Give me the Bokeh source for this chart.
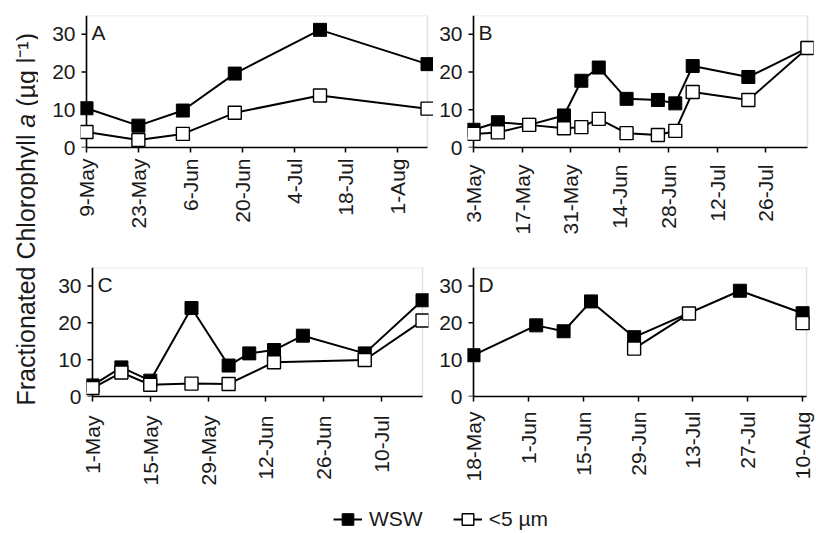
import numpy as np
import pandas as pd
from math import pi
from bokeh.plotting import figure
from bokeh.models import (Range1d, FixedTicker, BoxAnnotation, Label, Legend,
                          LegendItem, ColumnDataSource, Span)
from bokeh.layouts import row, column
from bokeh.embed import file_html
from bokeh.resources import INLINE

# ---------------- data ----------------
A_wsw_dates = ["9-May", "23-May", "4-Jun", "18-Jun", "11-Jul", "9-Aug"]
A_wsw = [10.4, 5.8, 9.8, 19.6, 31.2, 22.1]
A_small_dates = ["9-May", "23-May", "4-Jun", "18-Jun", "11-Jul", "9-Aug"]
A_small = [4.1, 2.0, 3.6, 9.2, 13.8, 10.3]
A_ticks = ["9-May", "23-May", "6-Jun", "20-Jun", "4-Jul", "18-Jul", "1-Aug"]
A_axis = ("9-May", "9-Aug")

B_wsw_dates = ["3-May", "10-May", "19-May", "29-May", "3-Jun", "8-Jun", "16-Jun",
               "25-Jun", "30-Jun", "5-Jul", "21-Jul", "7-Aug"]
B_wsw = [4.7, 6.7, 6.0, 8.5, 17.7, 21.2, 12.9, 12.6, 11.7, 21.6, 18.7, 26.4]
B_small_dates = B_wsw_dates
B_small = [3.6, 4.0, 6.0, 5.1, 5.4, 7.6, 3.8, 3.3, 4.4, 14.7, 12.6, 26.4]
B_ticks = ["3-May", "17-May", "31-May", "14-Jun", "28-Jun", "12-Jul", "26-Jul"]
B_axis = ("3-May", "7-Aug")

C_wsw_dates = ["1-May", "8-May", "15-May", "25-May", "3-Jun", "8-Jun", "14-Jun",
               "21-Jun", "6-Jul", "20-Jul"]
C_wsw = [3.0, 7.9, 4.3, 24.0, 8.4, 11.7, 12.6, 16.5, 11.7, 26.1]
C_small_dates = ["1-May", "8-May", "15-May", "25-May", "3-Jun", "14-Jun", "6-Jul", "20-Jul"]
C_small = [2.3, 6.5, 3.2, 3.5, 3.4, 9.3, 9.9, 20.6]
C_ticks = ["1-May", "15-May", "29-May", "12-Jun", "26-Jun", "10-Jul"]
C_axis = ("1-May", "20-Jul")

D_wsw_dates = ["18-May", "3-Jun", "10-Jun", "17-Jun", "28-Jun", "25-Jul", "10-Aug"]
D_wsw = [11.2, 19.3, 17.7, 25.8, 16.1, 28.7, 22.6]
D_small_dates = ["28-Jun", "12-Jul", "25-Jul", "10-Aug"]
D_small = [13.0, 22.5, np.nan, 19.9]
D_ticks = ["18-May", "1-Jun", "15-Jun", "29-Jun", "13-Jul", "27-Jul", "10-Aug"]
D_axis = ("18-May", "11-Aug")

y_ticks = [0, 10, 20, 30]
y_max = 35
series_names = ["WSW", "<5 µm"]
panel_letters = ["A", "B", "C", "D"]
y_title_parts = ["Fractionated Chlorophyll", "a", "(µg l⁻¹)"]

FONT = "Liberation Sans"
INK = "#1a1a1a"


def doy(s):
    return int(pd.to_datetime(s + "-2001", format="%d-%b-%Y").dayofyear)


# layout / style per panel (positions in px)
layouts = {
    "A": dict(w=395, h=248, bl=42, br=0, bt=14, bb=96, box_w=341, pad=6, stand=6),
    "B": dict(w=383, h=248, bl=34, br=3, bt=15, bb=101, box_w=334, pad=6, stand=12),
    "C": dict(w=393, h=240, bl=48, br=3, bt=19, bb=92, box_w=330, pad=6, stand=14),
    "D": dict(w=385, h=240, bl=36, br=4, bt=17, bb=92, box_w=333, pad=6, stand=10),
}

panels_data = {
    "A": (A_wsw_dates, A_wsw, A_small_dates, A_small, A_ticks, A_axis),
    "B": (B_wsw_dates, B_wsw, B_small_dates, B_small, B_ticks, B_axis),
    "C": (C_wsw_dates, C_wsw, C_small_dates, C_small, C_ticks, C_axis),
    "D": (D_wsw_dates, D_wsw, D_small_dates, D_small, D_ticks, D_axis),
}


def make_panel(letter):
    wd, wv, sd, sv, ticks, axis = panels_data[letter]
    L = layouts[letter]
    x0, x1 = doy(axis[0]), doy(axis[1])
    span = x1 - x0
    dpp = span / L["box_w"]          # days per pixel
    padd = L["pad"] * dpp
    p = figure(width=L["w"], height=L["h"],
               x_range=Range1d(x0 - padd, x1 + padd), y_range=Range1d(0, y_max),
               min_border_left=L["bl"], min_border_right=L["br"],
               min_border_top=L["bt"], min_border_bottom=L["bb"],
               output_backend="svg", toolbar_location=None)
    p.grid.visible = False
    p.outline_line_color = None
    p.background_fill_color = "white"
    p.border_fill_color = "white"

    # plot-area box (grey), then black left axis line on the box edge
    p.add_layout(BoxAnnotation(left=x0, right=x1, bottom=0, top=y_max, fill_alpha=0,
                               line_color="#a0a0a0", line_width=1.5, level="underlay"))
    p.add_layout(Span(location=x0, dimension="height", line_color="black",
                      line_width=1.6, level="underlay"))
    # y ticks pointing outward from the box edge
    p.segment(x0=[x0 - 5 * dpp] * len(y_ticks), y0=y_ticks,
              x1=[x0] * len(y_ticks), y1=y_ticks,
              line_color="black", line_width=1.5)

    tick_vals = [doy(t) for t in ticks]
    xa = p.xaxis[0]
    xa.ticker = FixedTicker(ticks=tick_vals)
    xa.major_label_overrides = {v: t for v, t in zip(tick_vals, ticks)}
    xa.bounds = (x0, x1)
    xa.major_label_orientation = pi / 2
    xa.major_label_standoff = L["stand"]
    xa.axis_line_color = "black"
    xa.axis_line_width = 1.6
    xa.major_tick_line_color = "black"
    xa.major_tick_line_width = 1.5
    xa.major_tick_out = 5
    xa.major_tick_in = 0

    ya = p.yaxis[0]
    ya.ticker = FixedTicker(ticks=y_ticks)
    ya.axis_line_color = None
    ya.major_tick_out = 0
    ya.major_tick_in = 0
    ya.major_label_standoff = 5

    for ax in (xa, ya):
        ax.minor_tick_out = 0
        ax.minor_tick_in = 0
        ax.major_label_text_font = FONT
        ax.major_label_text_font_size = "21px"
        ax.major_label_text_color = INK

    ws = ColumnDataSource(dict(x=[doy(d) for d in wd], y=np.array(wv, dtype=float)))
    ss = ColumnDataSource(dict(x=[doy(d) for d in sd], y=np.array(sv, dtype=float)))
    p.line("x", "y", source=ws, line_color="black", line_width=2)
    p.scatter("x", "y", source=ws, marker="square", size=13,
              fill_color="black", line_color="black", line_width=1)
    p.line("x", "y", source=ss, line_color="black", line_width=2)
    p.scatter("x", "y", source=ss, marker="square", size=13,
              fill_color="white", line_color="black", line_width=1.4)

    p.add_layout(Label(x=x0, y=y_max, x_offset=5, y_offset=-5, text=letter,
                       text_baseline="top", text_align="left",
                       text_font=FONT, text_font_size="21px", text_color=INK))
    return p


pA, pB, pC, pD = (make_panel(k) for k in panel_letters)

# y-axis title column (ranges in page pixels)
ylab = figure(width=38, height=488, x_range=Range1d(0, 38), y_range=Range1d(488, 0),
              min_border=0, x_axis_location=None, y_axis_location=None,
              output_backend="svg", toolbar_location=None)
ylab.grid.visible = False
ylab.outline_line_color = None
title_fs = 25
space_em = 0.278
part_em = [10.837, 0.556]          # Arial-metric widths of the first two parts
y_pos = 405
for i, (part, italic) in enumerate(zip(y_title_parts, [False, True, False])):
    ylab.add_layout(Label(x=25, y=y_pos, text=part, angle=pi / 2,
                          text_align="left", text_baseline="middle",
                          text_font=FONT, text_font_size=f"{title_fs}px",
                          text_font_style="italic" if italic else "normal",
                          text_color=INK))
    if i < len(part_em):
        y_pos -= (part_em[i] + space_em) * title_fs

# legend strip
lf = figure(width=816, height=45, x_range=Range1d(0, 1), y_range=Range1d(0, 1),
            min_border=0, x_axis_location=None, y_axis_location=None,
            output_backend="svg", toolbar_location=None)
lf.grid.visible = False
lf.outline_line_color = None
e1 = ColumnDataSource(dict(x=np.array([np.nan]), y=np.array([np.nan])))
e2 = ColumnDataSource(dict(x=np.array([np.nan]), y=np.array([np.nan])))
l1 = lf.line("x", "y", source=e1, line_color="black", line_width=2)
s1 = lf.scatter("x", "y", source=e1, marker="square", size=13,
                fill_color="black", line_color="black")
l2 = lf.line("x", "y", source=e2, line_color="black", line_width=2)
s2 = lf.scatter("x", "y", source=e2, marker="square", size=13,
                fill_color="white", line_color="black", line_width=1.4)
leg = Legend(items=[LegendItem(label=series_names[0], renderers=[l1, s1]),
                    LegendItem(label=series_names[1], renderers=[l2, s2])],
             orientation="horizontal", location=(333, -1),
             glyph_width=29, glyph_height=30, label_standoff=7, spacing=30,
             padding=0, margin=0, border_line_alpha=0, background_fill_alpha=0,
             label_text_font=FONT, label_text_font_size="21px",
             label_text_color=INK)
lf.add_layout(leg)

layout = column(row(ylab, column(row(pA, pB), row(pC, pD))), lf)

open("out.html", "w").write(file_html(layout, INLINE))
